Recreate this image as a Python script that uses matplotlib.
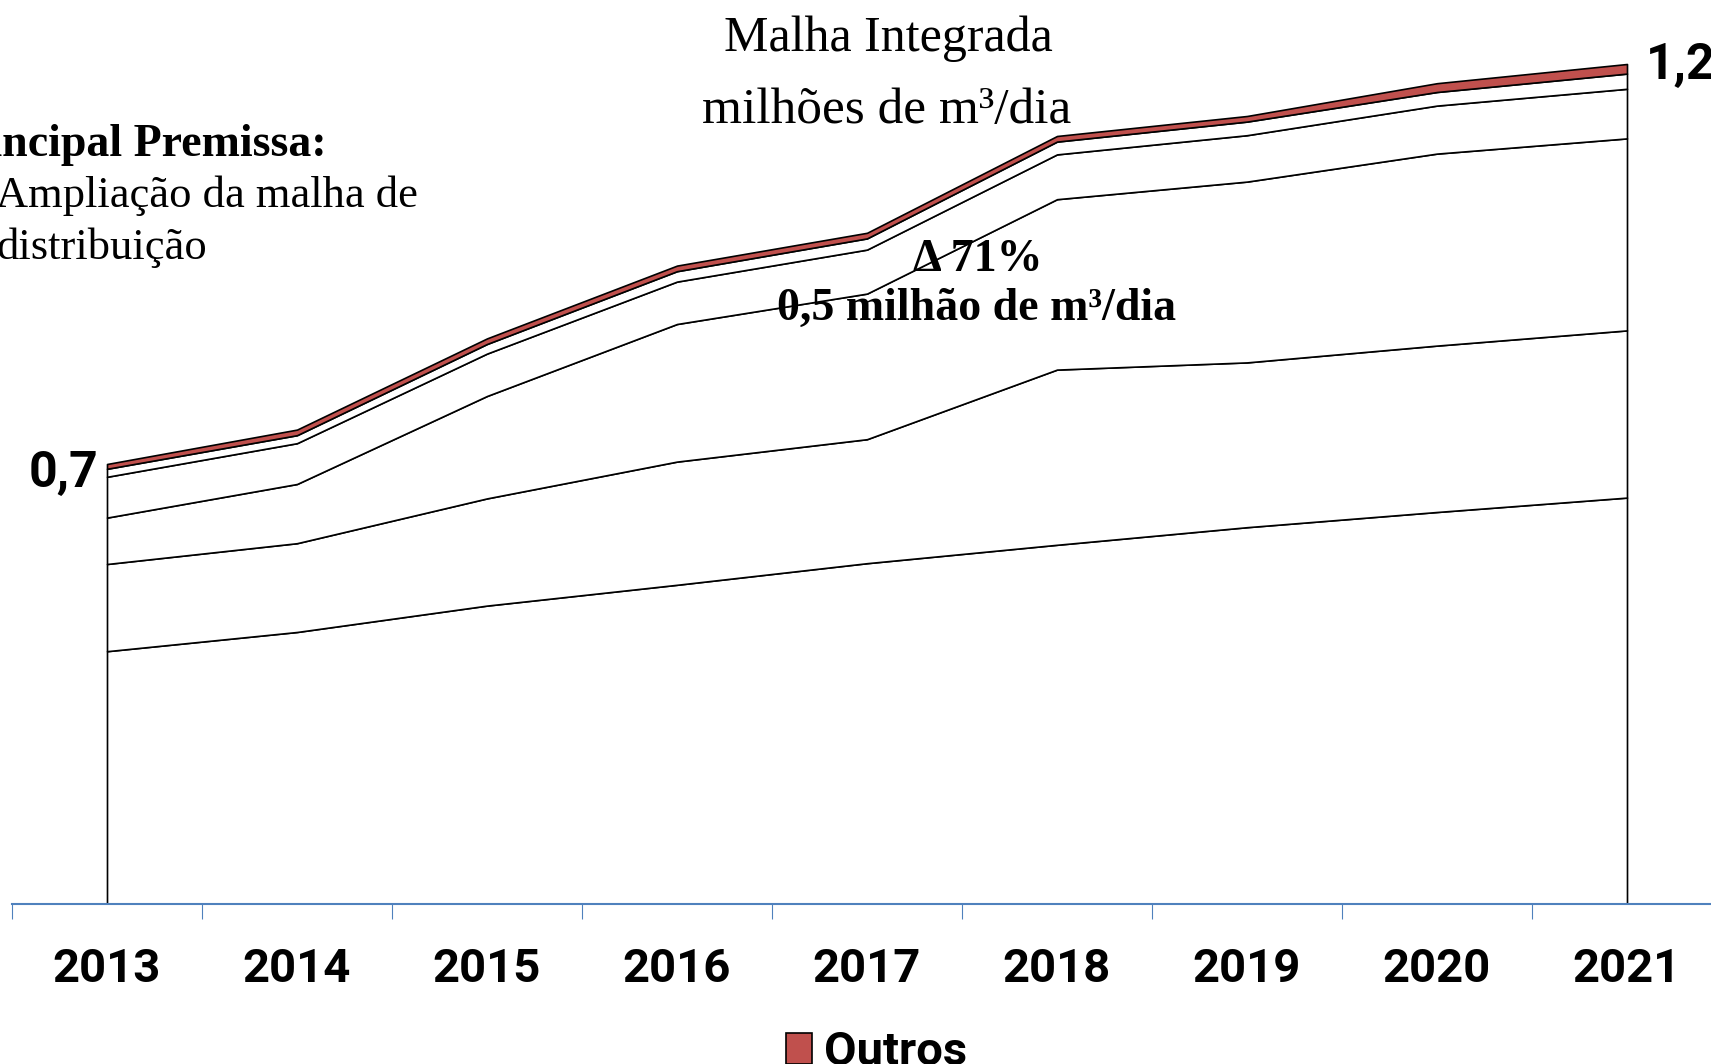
import numpy as np
import matplotlib
matplotlib.use('Agg')
import matplotlib.pyplot as plt
from matplotlib import font_manager

# --- 1. DADOS (milhões de m3/dia, camadas empilhadas) ---
anos = ['2013', '2014', '2015', '2016', '2017', '2018', '2019', '2020', '2021']
camada_1 = [0.466, 0.490, 0.523, 0.549, 0.576, 0.599, 0.621, 0.640, 0.658]
camada_2 = [0.109, 0.111, 0.134, 0.154, 0.155, 0.219, 0.206, 0.208, 0.209]
camada_3 = [0.058, 0.074, 0.128, 0.172, 0.182, 0.213, 0.226, 0.240, 0.240]
camada_4 = [0.051, 0.051, 0.053, 0.053, 0.055, 0.056, 0.058, 0.060, 0.062]
camada_5 = [0.010, 0.010, 0.012, 0.013, 0.014, 0.016, 0.017, 0.017, 0.019]
outros = [0.006, 0.007, 0.007, 0.007, 0.007, 0.007, 0.007, 0.011, 0.012]

# --- 2. FONTES ---
nomes = {f.name for f in font_manager.fontManager.ttflist}
SANS = 'Liberation Sans Narrow' if 'Liberation Sans Narrow' in nomes else 'Roboto'
SERIF = 'Liberation Serif'

W, H = 1711, 1064


def px(x, y):
    # pixel (a partir do canto superior esquerdo) -> fracao da figura
    return x / W, 1 - y / H


# --- 3. GRAFICO ---
fig = plt.figure(figsize=(W / 100, H / 100), dpi=100)
ax = fig.add_axes([12 / W, (H - 904) / H, 1710 / W, 904 / H])

x = np.arange(len(anos))
areas = ax.stackplot(x, camada_1, camada_2, camada_3, camada_4, camada_5, outros,
                     colors=['white'] * 5 + ['#C0504D'],
                     edgecolor='black', linewidth=1.2)

ax.set_xlim(-0.5, len(anos) - 0.5)
ax.set_ylim(0.15, 1.28)

# eixo x no estilo Excel: marcas entre categorias, rotulos no centro
ax.set_xticks(np.arange(-0.5, len(anos), 1))
ax.set_xticklabels([])
ax.set_xticks(x, anos, minor=True)
ax.tick_params(axis='x', which='major', length=10.8, width=0.8, color='#4F81BD')
ax.tick_params(axis='x', which='minor', length=0, pad=31)
for lbl in ax.get_xticklabels(minor=True):
    lbl.set_fontfamily(SANS)
    lbl.set_fontweight('bold')
    lbl.set_fontsize(34)
ax.set_yticks([])
for lado in ['left', 'right', 'top']:
    ax.spines[lado].set_visible(False)
ax.spines['bottom'].set_color('#4F81BD')
ax.spines['bottom'].set_linewidth(1.5)

# --- 4. TEXTOS ---
fig.text(*px(888, 51), 'Malha Integrada', ha='center', va='baseline',
         fontsize=36, family=SERIF)
fig.text(*px(887, 123), 'milhões de m³/dia', ha='center', va='baseline',
         fontsize=37, family=SERIF)
fig.text(*px(327, 156), 'Principal Premissa:', ha='right', va='baseline',
         fontsize=33, family=SERIF, fontweight='bold')
fig.text(*px(-4, 207), 'Ampliação da malha de', ha='left', va='baseline',
         fontsize=32, family=SERIF)
fig.text(*px(-4, 259), 'distribuição', ha='left', va='baseline',
         fontsize=32, family=SERIF)
fig.text(*px(978, 271), 'Δ 71%', ha='center', va='baseline',
         fontsize=33, family=SERIF, fontweight='bold')
fig.text(*px(977, 320), '0,5 milhão de m³/dia', ha='center', va='baseline',
         fontsize=33, family=SERIF, fontweight='bold')
fig.text(*px(98, 487), '0,7', ha='right', va='baseline',
         fontsize=36, family=SANS, fontweight='bold')
fig.text(*px(1646, 79), '1,2', ha='left', va='baseline',
         fontsize=36, family=SANS, fontweight='bold')

# legenda: apenas "Outros"
fig.legend([areas[-1]], ['Outros'], loc='lower left',
           bbox_to_anchor=px(786, 1074), frameon=False,
           prop={'family': SANS, 'weight': 'bold', 'size': 34},
           handlelength=0.55, handleheight=0.62, handletextpad=0.25,
           borderpad=0, borderaxespad=0)

fig.savefig('out.png', dpi=100)
